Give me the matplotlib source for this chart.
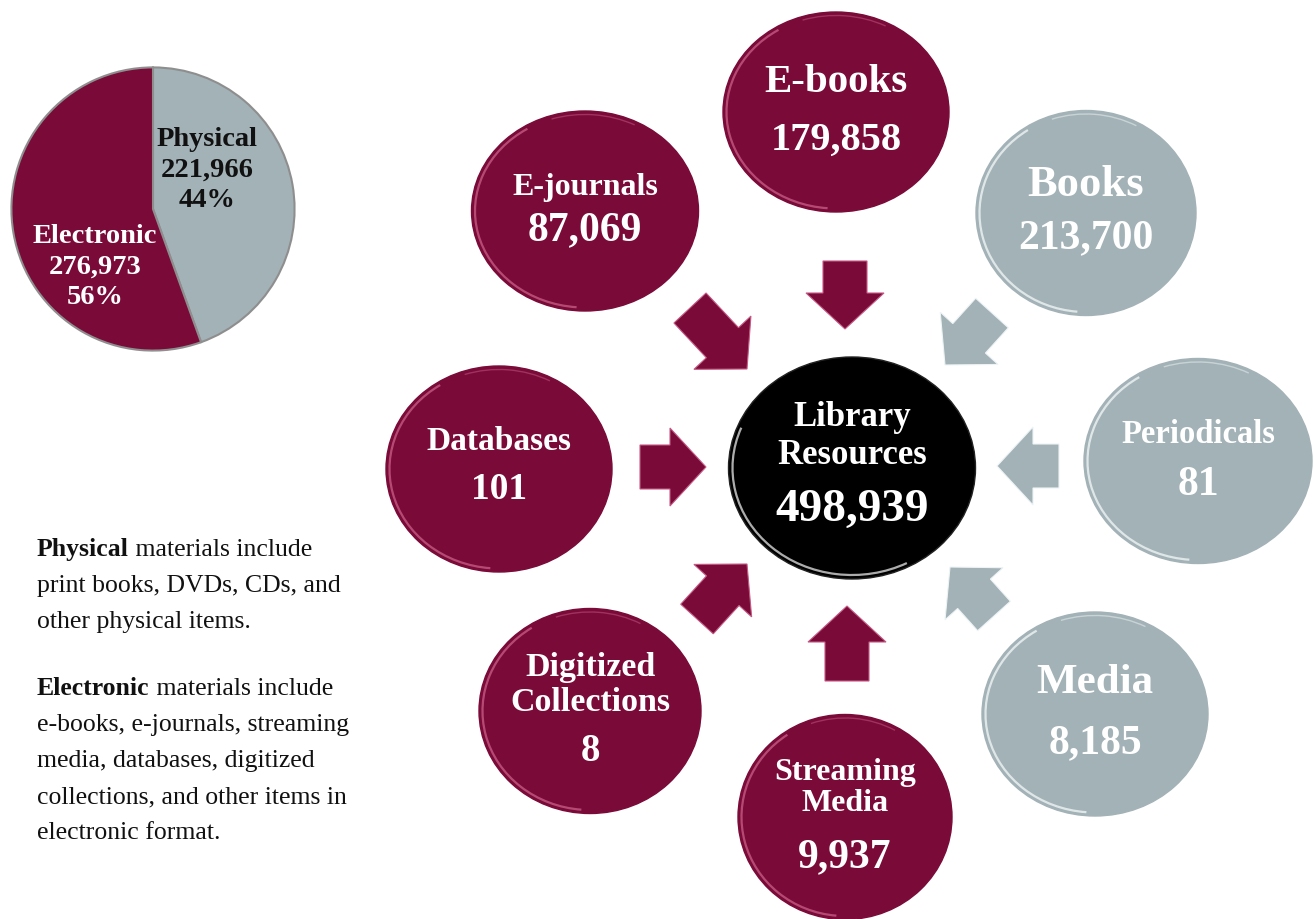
import matplotlib
matplotlib.use("Agg")
import matplotlib.pyplot as plt
from matplotlib.patches import Ellipse, Arc, FancyArrow

# ---- data -------------------------------------------------------------
categories = ["E-books", "Books", "Periodicals", "Media",
              "Streaming\nMedia", "Digitized\nCollections", "Databases", "E-journals"]
counts = [179858, 213700, 81, 8185, 9937, 8, 101, 87069]
kinds = ["Electronic", "Physical", "Physical", "Physical",
         "Electronic", "Electronic", "Electronic", "Electronic"]

pie_labels = ["Physical", "Electronic"]
pie_values = [sum(c for c, k in zip(counts, kinds) if k == lab) for lab in pie_labels]
total = sum(counts)
center_title = "Library\nResources"

note_physical = ["materials include", "print books, DVDs, CDs, and", "other physical items."]
note_electronic = ["materials include", "e-books, e-journals, streaming",
                   "media, databases, digitized", "collections, and other items in",
                   "electronic format."]

# ---- style / layout (pixels, y down) -----------------------------------
MAROON = "#7a0a38"
MAROON_HI = "#c45a84"
GREY = "#a3b2b7"
GREY_HI = "#eef4f5"
COLORS = {"Electronic": MAROON, "Physical": GREY}
HILITE = {"Electronic": MAROON_HI, "Physical": GREY_HI}
FONT = "Liberation Serif"

# cx, cy, w, h, title_y, value_y, title_pt, value_pt, linespacing
bubble_layout = [
    (836, 113, 226, 200, 83, 140, 29.5, 29, 1.0),
    (1086, 214, 220, 205, 185, 238, 32, 30, 1.0),
    (1198, 462, 228, 205, 435, 485, 23.5, 30, 1.0),
    (1095, 715, 226, 204, 683, 743, 31, 30, 1.0),
    (845, 818, 214, 205, 788, 857, 23, 30, 1.05),
    (590, 712, 222, 205, 685, 752, 24.5, 28, 1.16),
    (499, 470, 226, 206, 442, 490, 24, 27, 1.0),
    (585, 212, 227, 200, 187, 230, 23, 30, 1.0),
]
# tail (x, y) -> tip (x, y)
arrow_layout = [
    ((845, 262), (845, 330)),
    ((992, 314), (945, 366)),
    ((1059, 467), (997, 467)),
    ((994, 617), (950, 568)),
    ((847, 682), (847, 607)),
    ((697, 620), (747, 565)),
    ((640, 468), (706, 468)),
    ((690, 309), (747, 370)),
]

fig = plt.figure(figsize=(13.14, 9.2), dpi=100)
fig.patch.set_facecolor("white")

# pie goes underneath the main drawing layer
pax = fig.add_axes([8 / 1314, 1 - 353 / 920, 290 / 1314, 286 / 920])
pax.pie(pie_values, colors=[GREY, MAROON], startangle=90, counterclock=False,
        wedgeprops=dict(edgecolor="#8e8e8e", linewidth=1.5))
pax.set_xlim(-1.01, 1.01)
pax.set_ylim(-1.01, 1.01)

ax = fig.add_axes([0, 0, 1, 1])
ax.set_xlim(0, 1314)
ax.set_ylim(920, 0)
ax.axis("off")
ax.patch.set_alpha(0)


def bubble(cx, cy, w, h, fill, hi):
    ax.add_patch(Ellipse((cx, cy), w, h, facecolor=fill, edgecolor=fill, lw=1, zorder=2))
    # bevel highlight along the rim
    ax.add_patch(Arc((cx, cy), w - 7, h - 7, theta1=95, theta2=235,
                     color=hi, lw=1.6, alpha=0.8, zorder=3))
    ax.add_patch(Arc((cx, cy), w - 7, h - 7, theta1=250, theta2=300,
                     color=hi, lw=1.0, alpha=0.5, zorder=3))


# arrows
for (tail, tip), kind in zip(arrow_layout, kinds):
    dx, dy = tip[0] - tail[0], tip[1] - tail[1]
    ax.add_patch(FancyArrow(tail[0], tail[1], dx, dy, width=44, head_width=78,
                            head_length=36, length_includes_head=True,
                            facecolor=COLORS[kind], edgecolor=HILITE[kind],
                            lw=0.8, zorder=2))

# outer bubbles
for name, val, kind, lay in zip(categories, counts, kinds, bubble_layout):
    cx, cy, w, h, ty, vy, tpt, vpt, ls = lay
    bubble(cx, cy, w, h, COLORS[kind], HILITE[kind])
    ax.text(cx, ty, name, ha="center", va="center", color="white", family=FONT,
            weight="bold", fontsize=tpt, linespacing=ls, zorder=4)
    ax.text(cx, vy, f"{val:,}", ha="center", va="center", color="white", family=FONT,
            weight="bold", fontsize=vpt, zorder=4)

# centre bubble
ax.add_patch(Ellipse((852, 469), 247, 222, facecolor="black", edgecolor="#222222", lw=1, zorder=2))
ax.add_patch(Arc((852, 469), 239, 214, theta1=60, theta2=200, color="#d8d8d8",
                 lw=1.6, alpha=0.8, zorder=3))
ax.text(852, 437, center_title, ha="center", va="center", color="white", family=FONT,
        weight="bold", fontsize=25, linespacing=1.2, zorder=4)
ax.text(852, 510, f"{total:,}", ha="center", va="center", color="white", family=FONT,
        weight="bold", fontsize=34, zorder=4)

# pie labels
pie_text_pos = [(207, 170, "#111111"), (95, 267, "white")]
for lab, val, (px, py, col) in zip(pie_labels, pie_values, pie_text_pos):
    ax.text(px, py, f"{lab}\n{val:,}\n{val / total:.0%}", ha="center", va="center",
            color=col, family=FONT, weight="bold", fontsize=20.5, linespacing=1.3, zorder=6)

# notes on the left
NOTE_PT = 18.5
LINE = 36
for word, lines, y0 in (("Physical", note_physical, 550), ("Electronic", note_electronic, 689)):
    b = ax.text(37, y0, word, ha="left", va="center", family=FONT, weight="bold",
                fontsize=NOTE_PT, color="#111111")
    ax.annotate(" " + lines[0], xy=(1, 0.5), xycoords=b, ha="left", va="center",
                family=FONT, fontsize=NOTE_PT, color="#111111")
    for i, line in enumerate(lines[1:], start=1):
        ax.text(37, y0 + i * LINE, line, ha="left", va="center", family=FONT,
                fontsize=NOTE_PT, color="#111111")

fig.savefig("out.png", dpi=100, facecolor="white")
